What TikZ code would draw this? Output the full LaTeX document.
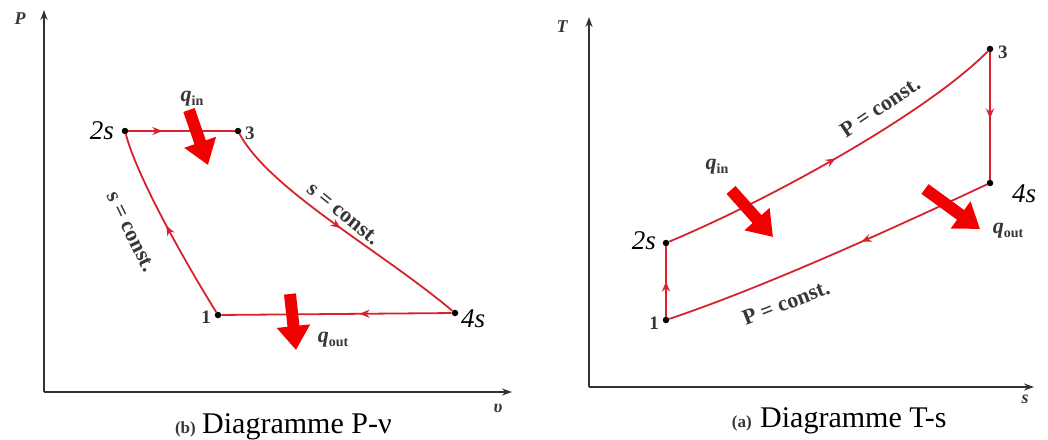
\documentclass[tikz,border=0pt]{standalone}
\usepackage{fontspec}
\setmainfont{Liberation Serif}
\usetikzlibrary{arrows.meta,decorations.markings}
\definecolor{cyccol}{RGB}{215,35,45}
\definecolor{heatcol}{RGB}{240,0,0}
\definecolor{axcol}{RGB}{50,50,50}
\definecolor{txtcol}{RGB}{55,55,55}
\newcommand{\qheat}[1]{\textbf{\textit{q}}\raisebox{-4pt}{\fontsize{14}{15}\selectfont\bfseries #1}}
\begin{document}
\begin{tikzpicture}[x=1pt,y=-1pt,
  dot/.style={circle,fill=black,inner sep=0pt,minimum size=6.5pt},
  axisline/.style={draw=axcol,line width=2pt,-{Stealth[length=10pt,width=7pt]}},
  cycline/.style={draw=cyccol,line width=1.8pt},
  midarr/.style={postaction={decorate},decoration={markings,mark=at position #1 with {\arrow[color=cyccol]{Stealth[length=10pt,width=8pt]}}}},
  heatarr/.style={draw=heatcol,line width=12pt,-{Triangle[length=24pt,width=32pt]}},
  biglab/.style={font=\fontsize{27}{30}\selectfont\itshape,inner sep=1pt},
  numlab/.style={font=\fontsize{19}{22}\selectfont\bfseries,text=txtcol,inner sep=1pt},
  qlab/.style={font=\fontsize{22}{24}\selectfont,text=txtcol,inner sep=0pt},
  constlab/.style={font=\fontsize{22}{24}\selectfont\bfseries,text=txtcol,inner sep=0pt},
  axlab/.style={font=\fontsize{18}{20}\selectfont\bfseries\itshape,text=txtcol,inner sep=0pt},
  caplab/.style={font=\fontsize{30}{34}\selectfont,inner sep=0pt},
  capb/.style={font=\fontsize{17}{20}\selectfont\bfseries,text=txtcol,inner sep=0pt}
]
\useasboundingbox[fill=white] (0,0) rectangle (1048,439);

% ===== Left panel: P-v =====
\coordinate (O1) at (44,392);
\coordinate (Ytop1) at (44,10);
\coordinate (Xend1) at (512,392);
\draw[axisline] (O1) -- (Ytop1);
\draw[axisline] (O1) -- (Xend1);
\node[axlab] (Plab) at (20,19) {P};
\node[axlab] (vlab) at (498,408) {υ};

\node[dot] (L2) at (125,131) {};
\node[dot] (L3) at (238,131) {};
\node[dot] (L1) at (218,315) {};
\node[dot] (L4) at (455,313) {};

\draw[cycline,midarr=0.32] (L2) -- (L3);
\draw[cycline,midarr=0.5] (L3) .. controls (270,190) and (380,250) .. (L4);
\draw[cycline,midarr=0.4] (L4) -- (L1);
\draw[cycline,midarr=0.5] (L1) .. controls (190,270) and (138,180) .. (L2);

\node[biglab,anchor=east] (L2lab) at (115,131) {2s};
\node[numlab,anchor=west] (L3lab) at (244,133) {3};
\node[numlab,anchor=east] (L1lab) at (212,317) {1};
\node[biglab,anchor=west] (L4lab) at (460,319) {4s};

\coordinate (qinL0) at (189,110);
\coordinate (qinL1) at (208,165);
\draw[heatarr] (qinL0) -- (qinL1);
\node[qlab] (qinLlab) at (192,99) {\qheat{in}};
\coordinate (qoutL0) at (290,294);
\coordinate (qoutL1) at (296,350);
\draw[heatarr] (qoutL0) -- (qoutL1);
\node[qlab] (qoutLlab) at (333,340) {\qheat{out}};

\node[constlab,rotate=-64] (sc1) at (131,232) {s = const.};
\node[constlab,rotate=-39] (sc2) at (343,214) {s = const.};

\node[capb,anchor=base east] (capbL) at (196,433) {(b)};
\node[caplab,anchor=base west] (capL) at (202,433) {Diagramme P-ν};

% ===== Right panel: T-s =====
\coordinate (O2) at (589,387);
\coordinate (Ytop2) at (589,17);
\coordinate (Xend2) at (1034,387);
\draw[axisline] (O2) -- (Ytop2);
\draw[axisline] (O2) -- (Xend2);
\node[axlab] (Tlab) at (562,27) {T};
\node[axlab] (slab) at (1025,399) {s};

\node[dot] (R1) at (666,320) {};
\node[dot] (R2) at (666,243) {};
\node[dot] (R3) at (990,49) {};
\node[dot] (R4) at (990,183) {};

\draw[cycline,midarr=0.5] (R1) -- (R2);
\draw[cycline,midarr=0.5] (R2) .. controls (780,195) and (930,110) .. (R3);
\draw[cycline,midarr=0.52] (R3) -- (R4);
\draw[cycline,midarr=0.4] (R4) .. controls (900,225) and (770,285) .. (R1);

\node[numlab,anchor=east] (R1lab) at (660,323) {1};
\node[biglab,anchor=east] (R2lab) at (657,241) {2s};
\node[numlab,anchor=west] (R3lab) at (997,52) {3};
\node[biglab,anchor=west] (R4lab) at (1011,194) {4s};

\coordinate (qinR0) at (731,190);
\coordinate (qinR1) at (773,237);
\draw[heatarr] (qinR0) -- (qinR1);
\node[qlab] (qinRlab) at (717,167) {\qheat{in}};
\coordinate (qoutR0) at (925,189);
\coordinate (qoutR1) at (980,229);
\draw[heatarr] (qoutR0) -- (qoutR1);
\node[qlab] (qoutRlab) at (1008,231) {\qheat{out}};

\node[constlab,rotate=34] (pc1) at (880,107) {P = const.};
\node[constlab,rotate=21] (pc2) at (786,303) {P = const.};

\node[capb,anchor=base east] (capbR) at (752,427) {(a)};
\node[caplab,anchor=base west] (capR) at (760,427) {Diagramme T-s};
\end{tikzpicture}
\end{document}
